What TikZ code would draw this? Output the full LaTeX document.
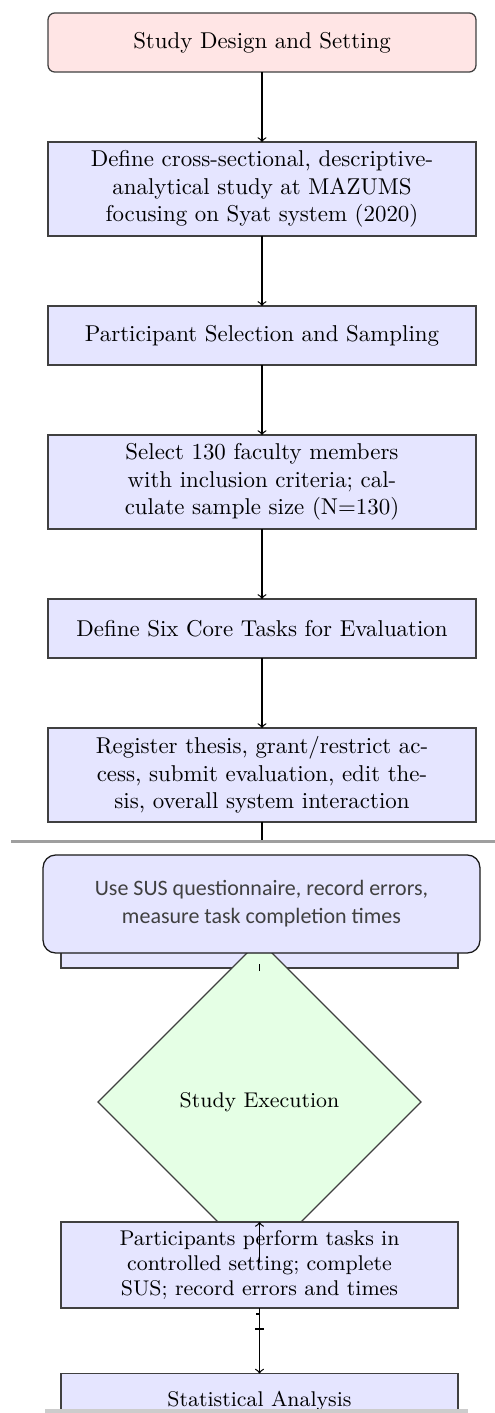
\documentclass[tikz,border=0pt]{standalone}
\usepackage{fontspec}
\newfontfamily\calibri{Carlito}
\usetikzlibrary{shapes.geometric}

\begin{document}
\begin{tikzpicture}[x=0.4367pt,y=-0.4367pt,line width=0.55pt,
    every node/.style={inner sep=0pt,outer sep=0pt,align=center},
    topbox/.style={draw=black!75,fill=red!10,rounded corners=3pt,
      minimum width=186.9pt,minimum height=25.8pt},
    bluebox/.style={draw=black!75,fill=blue!10,minimum width=186.9pt,minimum height=#1},
    bluebox/.default=25.8pt,
    lowbox/.style={draw=black!75,fill=blue!10,minimum width=173.4pt,minimum height=#1,
      font=\fontsize{9.3}{11.05}\selectfont},
    lowbox/.default=24pt,
    decision/.style={diamond,draw=black!75,fill=green!10,minimum width=141pt,
      minimum height=141pt,font=\fontsize{9.3}{11.05}\selectfont},
    overlay box/.style={draw=black!90,fill=blue!10,rounded corners=5.5pt,
      minimum width=190.8pt,minimum height=42.8pt,text=black!75,
      font=\calibri\fontsize{9.6}{12.2}\selectfont},
    flow/.style={->}]
  \useasboundingbox (0,0) rectangle (495,1413);
  \clip (0,0) rectangle (495,1413);

  % parte superior
  \node[topbox]      (design) at (262,42.5) {Study Design and Setting};
  \node[bluebox=41pt] (define) at (262,189)
    {Define cross-sectional, descriptive-\\analytical study at MAZUMS\\focusing on Syat system (2020)};
  \node[bluebox]     (select) at (262,335.5) {Participant Selection and Sampling};
  \node[bluebox=41pt] (sample) at (262,482)
    {Select 130 faculty members\\with inclusion criteria; cal-\\culate sample size (N=130)};
  \node[bluebox]     (tasks)  at (262,628.5) {Define Six Core Tasks for Evaluation};
  \node[bluebox=41pt] (core)   at (262,775)
    {Register thesis, grant/restrict ac-\\cess, submit evaluation, edit the-\\sis, overall system interaction};
  \coordinate (cut) at (262,840);

  \draw[flow] (design) -- (define);
  \draw[flow] (define) -- (select);
  \draw[flow] (select) -- (sample);
  \draw[flow] (sample) -- (tasks);
  \draw[flow] (tasks)  -- (core);
  \draw (core) -- (cut);

  % parte inferior (outra escala)
  \node[lowbox=38pt] (tools) at (259.5,924.5) {};
  \node[decision]    (exec)  at (259.5,1102) {Study Execution};
  \node[lowbox=37.6pt] (perform) at (259.5,1265)
    {Participants perform tasks in\\controlled setting; complete\\SUS; record errors and times};
  \node[lowbox]      (stats) at (259.5,1401) {Statistical Analysis};

  \draw (tools.south) ++(0,3) -- ++(0,-7);   % toco visivel
  \draw[flow] (exec)    -- (perform);
  \draw[flow] (perform) -- (stats);
  \draw (256,1314) -- (259.5,1314);   % marquinha superior
  \draw (255,1329) -- (264,1329);     % marquinha inferior

  % faixas cinza
  \draw[gray!75,line width=1.3pt] (11,841.5) -- (495,841.5);
  \fill[gray!40] (45,1409) rectangle (468,1413);

  \node[overlay box] (sus) at (261.5,904)
    {Use SUS questionnaire, record errors,\\measure task completion times};
\end{tikzpicture}
\end{document}
